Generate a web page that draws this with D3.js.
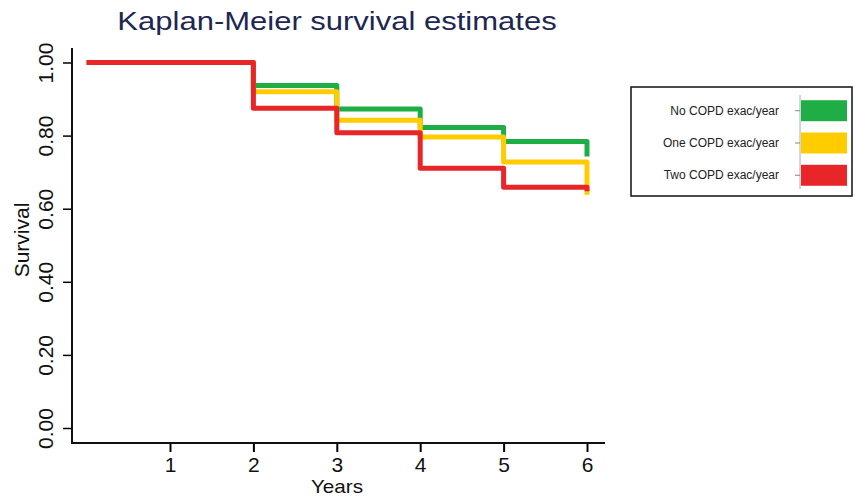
<!DOCTYPE html>
<html lang="en">
<head>
    <meta charset="UTF-8">
    <title>Kaplan-Meier survival estimates</title>
    <script src="https://d3js.org/d3.v7.min.js"></script>
    <style>
        body { margin: 0; background: #fff; }
        text { font-family: "Liberation Sans", Arial, sans-serif; }
        .tick text { font-size: 21px; fill: #111; }
    </style>
</head>
<body>
<svg width="855" height="497"></svg>
<script>
    const years = [0, 2, 3, 4, 5, 6];
    const noExac = [1.00, 0.937, 0.873, 0.822, 0.784, 0.743];
    const oneExac = [1.00, 0.920, 0.842, 0.796, 0.728, 0.638];
    const twoExac = [1.00, 0.875, 0.808, 0.711, 0.659, 0.648];
    const seriesNames = ["No COPD exac/year", "One COPD exac/year", "Two COPD exac/year"];
    const seriesColors = ["#1fae45", "#ffcc00", "#e8262a"];
    const xTicks = [1, 2, 3, 4, 5, 6];
    const yTicks = [0, 0.2, 0.4, 0.6, 0.8, 1.0];

    const svg = d3.select("svg");

    const x = d3.scaleLinear().domain([0, 6]).range([86.6, 587]);
    const y = d3.scaleLinear().domain([0, 1]).range([428, 62.5]);

    // title (reference is stretched sideways)
    svg.append("text")
        .attr("transform", "translate(337,30) scale(1.24,1)")
        .attr("text-anchor", "middle")
        .attr("font-size", 25)
        .attr("fill", "#1e2752")
        .text("Kaplan-Meier survival estimates");

    // axes
    const xAxis = svg.append("g")
        .attr("transform", "translate(0,443)")
        .call(d3.axisBottom(x).tickValues(xTicks).tickSize(9).tickPadding(5).tickFormat(d3.format("d")));
    xAxis.select(".domain").remove();
    xAxis.selectAll("line").attr("stroke-width", 2);

    const yAxis = svg.append("g")
        .attr("transform", "translate(72,0)")
        .call(d3.axisLeft(y).tickValues(yTicks).tickSize(9).tickFormat(d3.format(".2f")));
    yAxis.select(".domain").remove();
    yAxis.selectAll("line").attr("stroke-width", 1.5);
    yAxis.selectAll("text")
        .attr("text-anchor", "middle")
        .attr("dy", null)
        .attr("x", null)
        .attr("transform", "translate(-19,0) rotate(-90)");

    svg.append("path")
        .attr("d", "M72,48V443H605")
        .attr("fill", "none")
        .attr("stroke", "#111")
        .attr("stroke-width", 2);

    svg.append("text")
        .attr("transform", "translate(337,493) scale(1.15,1)")
        .attr("text-anchor", "middle")
        .attr("font-size", 18)
        .attr("fill", "#111")
        .text("Years");

    svg.append("text")
        .attr("transform", "translate(29,240) rotate(-90)")
        .attr("text-anchor", "middle")
        .attr("font-size", 21)
        .attr("fill", "#111")
        .text("Survival");

    // survival curves
    const line = d3.line()
        .x(d => x(d[0]))
        .y(d => y(d[1]))
        .curve(d3.curveStepAfter);

    [noExac, oneExac, twoExac].forEach((vals, i) => {
        svg.append("path")
            .datum(years.map((t, j) => [t, vals[j]]))
            .attr("d", line)
            .attr("fill", "none")
            .attr("stroke", seriesColors[i])
            .attr("stroke-width", 5)
            .attr("stroke-linejoin", "round");
    });

    // legend
    const lg = svg.append("g");
    lg.append("rect")
        .attr("x", 631).attr("y", 87)
        .attr("width", 221).attr("height", 109)
        .attr("fill", "#fff")
        .attr("stroke", "#111")
        .attr("stroke-width", 1.5);
    lg.append("line")
        .attr("x1", 800).attr("x2", 800)
        .attr("y1", 95).attr("y2", 189)
        .attr("stroke", "#aaa")
        .attr("stroke-width", 1);
    const ly = d3.scaleBand().domain(seriesNames).range([97, 189]).paddingInner(0.35).paddingOuter(0.1);
    seriesNames.forEach((name, i) => {
        lg.append("rect")
            .attr("x", 801).attr("y", ly(name))
            .attr("width", 46).attr("height", ly.bandwidth())
            .attr("fill", seriesColors[i]);
        const cy = ly(name) + ly.bandwidth() / 2;
        lg.append("line")
            .attr("x1", 795).attr("x2", 800)
            .attr("y1", cy).attr("y2", cy)
            .attr("stroke", "#888");
        lg.append("text")
            .attr("x", 779).attr("y", cy + 4)
            .attr("text-anchor", "end")
            .attr("font-size", 12)
            .attr("fill", "#222")
            .attr("font-family", "'Open Sans', sans-serif")
            .text(name);
    });
</script>
</body>
</html>
